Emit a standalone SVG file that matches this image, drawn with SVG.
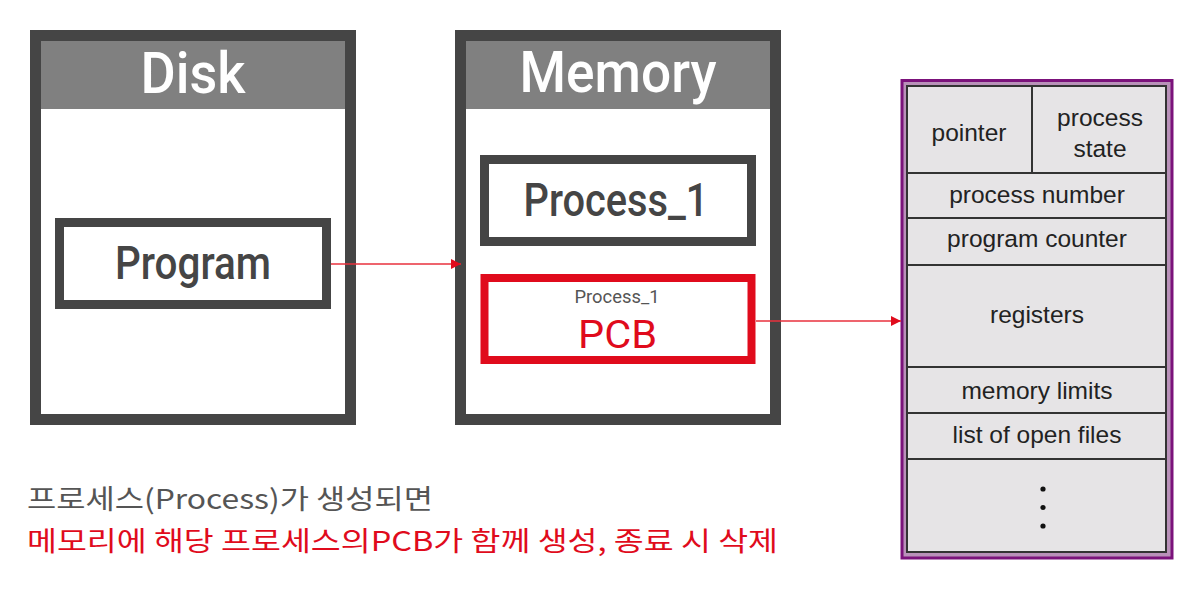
<svg xmlns="http://www.w3.org/2000/svg" width="1198" height="598" viewBox="0 0 1198 598">
<style>
.frame{fill:#ffffff;stroke:#454545;stroke-width:11}
.hdr{fill:#808080}
.hdrtxt{font-family:Roboto,"Liberation Sans",sans-serif;font-weight:500;font-size:57px;fill:#ffffff;text-anchor:middle}
.box{fill:#ffffff;stroke:#454545;stroke-width:9}
.boxtxt{font-family:Roboto,"Liberation Sans",sans-serif;font-weight:500;font-size:46px;fill:#454545;text-anchor:middle}
.pcbbox{fill:#ffffff;stroke:#e00b1c;stroke-width:8}
.cell{font-family:"Liberation Sans",Arial,sans-serif;font-size:24.5px;fill:#222;text-anchor:middle}
.tline{stroke:#333;stroke-width:2}
.conn{stroke:#e8303c;stroke-width:1.5;fill:none}
.kr{font-family:"Noto Sans CJK KR",sans-serif;font-size:27px}
</style>
<defs>
<marker id="ah" viewBox="0 0 10 10" refX="10" refY="5" markerWidth="10" markerHeight="10" markerUnits="userSpaceOnUse" orient="auto">
<path d="M0,0 L10,5 L0,10 Z" fill="#e00b1c"/>
</marker>
</defs>
<rect width="1198" height="598" fill="#ffffff"/>

<g id="disk">
<rect class="frame" x="35.5" y="35.5" width="315" height="384"/>
<rect class="hdr" x="41" y="41" width="304" height="68"/>
<text class="hdrtxt" x="193" y="93" textLength="105" lengthAdjust="spacingAndGlyphs">Disk</text>
</g>

<g id="program">
<rect class="box" x="59.5" y="222.5" width="267" height="82"/>
<text class="boxtxt" x="193" y="279" textLength="156" lengthAdjust="spacingAndGlyphs">Program</text>
</g>

<g id="memory">
<rect class="frame" x="460.5" y="35.5" width="315" height="384"/>
<rect class="hdr" x="466" y="41" width="304" height="68"/>
<text class="hdrtxt" x="618" y="92" textLength="197" lengthAdjust="spacingAndGlyphs">Memory</text>
</g>

<g id="process1">
<rect class="box" x="484.5" y="159.5" width="267" height="82"/>
<text class="boxtxt" x="616" y="216" textLength="185" lengthAdjust="spacingAndGlyphs">Process_1</text>
</g>

<g id="pcb">
<rect class="pcbbox" x="484.5" y="278" width="267" height="82"/>
<text x="617" y="303" font-family="Roboto,'Liberation Sans',sans-serif" font-size="18" fill="#555555" text-anchor="middle" textLength="85" lengthAdjust="spacingAndGlyphs">Process_1</text>
<text x="617.5" y="348" font-family="Roboto,'Liberation Sans',sans-serif" font-size="38" fill="#e00b1c" text-anchor="middle" textLength="79" lengthAdjust="spacingAndGlyphs">PCB</text>
</g>

<g id="pcb-table">
<rect x="902" y="80.5" width="270" height="477.5" fill="#b991b9" stroke="#7b127b" stroke-width="3"/>
<rect x="907" y="86" width="259" height="466" fill="#e6e4e6" stroke="#333" stroke-width="2"/>
<line class="tline" x1="1032" y1="86" x2="1032" y2="173"/>
<line class="tline" x1="907" y1="173" x2="1166" y2="173"/>
<line class="tline" x1="907" y1="218" x2="1166" y2="218"/>
<line class="tline" x1="907" y1="265" x2="1166" y2="265"/>
<line class="tline" x1="907" y1="367" x2="1166" y2="367"/>
<line class="tline" x1="907" y1="413" x2="1166" y2="413"/>
<line class="tline" x1="907" y1="459" x2="1166" y2="459"/>
<text class="cell" x="969" y="141">pointer</text>
<text class="cell" x="1100" y="126">process</text>
<text class="cell" x="1100" y="157">state</text>
<text class="cell" x="1037" y="203">process number</text>
<text class="cell" x="1037" y="247">program counter</text>
<text class="cell" x="1037" y="323">registers</text>
<text class="cell" x="1037" y="399">memory limits</text>
<text class="cell" x="1037" y="443">list of open files</text>
<circle cx="1043" cy="489" r="2.6" fill="#111"/>
<circle cx="1043" cy="507.5" r="2.6" fill="#111"/>
<circle cx="1043" cy="526" r="2.6" fill="#111"/>
</g>

<g id="connectors">
<line class="conn" x1="331" y1="264" x2="461" y2="264" marker-end="url(#ah)"/>
<line class="conn" x1="756" y1="321" x2="901" y2="321" marker-end="url(#ah)"/>
</g>

<g id="caption">
<text class="kr" x="27" y="509" fill="#555555" textLength="406" lengthAdjust="spacingAndGlyphs">프로세스(Process)가 생성되면</text>
<text class="kr" x="27" y="551" fill="#e00b1c" textLength="751" lengthAdjust="spacingAndGlyphs">메모리에 해당 프로세스의PCB가 함께 생성, 종료 시 삭제</text>
</g>
</svg>
